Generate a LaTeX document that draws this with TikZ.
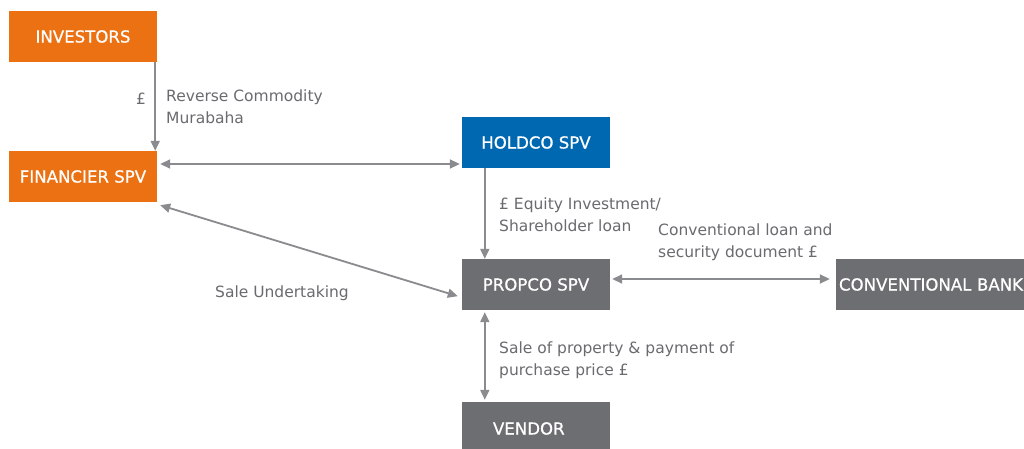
\documentclass[tikz,border=0pt]{standalone}
\usepackage{fontspec}
\setmainfont{DejaVu Sans}
\newfontfamily\boxfont[FakeBold=0.7]{DejaVu Sans}
\usetikzlibrary{arrows.meta}
\definecolor{orng}{HTML}{EC7112}
\definecolor{blu}{HTML}{0068B1}
\definecolor{gry}{HTML}{6D6E72}
\definecolor{arr}{HTML}{8A8B8F}
\definecolor{txt}{HTML}{6A6B6F}
\tikzset{
  box/.style={rectangle, inner sep=0pt, minimum width=148pt, minimum height=51pt, text=white, font=\boxfont\fontsize{16.6}{20}\selectfont},
  conn/.style={draw=arr, line width=1.8pt, -{Triangle[length=10pt,width=9pt]}},
  biconn/.style={draw=arr, line width=1.8pt, {Triangle[length=10pt,width=9pt]}-{Triangle[length=10pt,width=9pt]}},
  lbl/.style={text=txt, font=\fontsize{15.5}{22}\selectfont, align=left, inner sep=0pt},
}
\begin{document}
\begin{tikzpicture}[x=1pt,y=-1pt]
\useasboundingbox (0,0) rectangle (1024,449);
\fill[white] (0,0) rectangle (1024,449);
\begin{scope}
\clip (0,0) rectangle (1024,449);
\node[box, fill=orng] (inv) at (83,36.5) {INVESTORS};
\node[box, fill=orng] (fin) at (83,176.5) {FINANCIER SPV};
\node[box, fill=blu] (hold) at (536,142.5) {HOLDCO SPV};
\node[box, fill=gry] (prop) at (536,284.5) {PROPCO SPV};
\node[box, fill=gry, minimum width=200pt, text width=194pt, align=left] (bank) at (936,284.5) {CONVENTIONAL BANK};
\node[box, fill=gry, minimum height=53pt, text width=130pt, align=left] (vend) at (536,428.5) {\hspace*{22pt}VENDOR};

\draw[conn] ([xshift=-2pt]inv.south east) -- ([xshift=-2pt]fin.north east);
\draw[biconn] ([xshift=3pt,yshift=12.5pt]fin.east) -- ([xshift=-2pt,yshift=-21.5pt]hold.west);
\draw[biconn] ([shift={(3pt,-3pt)}]fin.south east) -- ([shift={(-4pt,14pt)}]prop.south west);
\draw[conn] ([xshift=23pt]hold.south west) -- ([xshift=23pt]prop.north west);
\draw[biconn] ([xshift=2pt,yshift=5.5pt]prop.east) -- ([xshift=-6pt,yshift=5.5pt]bank.west);
\draw[biconn] ([xshift=23pt,yshift=-2pt]prop.south west) -- ([xshift=23pt,yshift=2pt]vend.north west);

\node[lbl, anchor=center] (pound) at (141,99) {£};
\node[lbl, anchor=north west] (l1) at (166,90) {Reverse Commodity\\Murabaha};
\node[lbl, anchor=west] (l2) at (215,293) {Sale Undertaking};
\node[lbl, anchor=north west] (l3) at (499,198) {£ Equity Investment/\\Shareholder loan};
\node[lbl, anchor=north west] (l4) at (658,224) {Conventional loan and\\security document £};
\node[lbl, anchor=north west] (l5) at (499,342) {Sale of property \& payment of\\purchase price £};
\end{scope}
\end{tikzpicture}
\end{document}
